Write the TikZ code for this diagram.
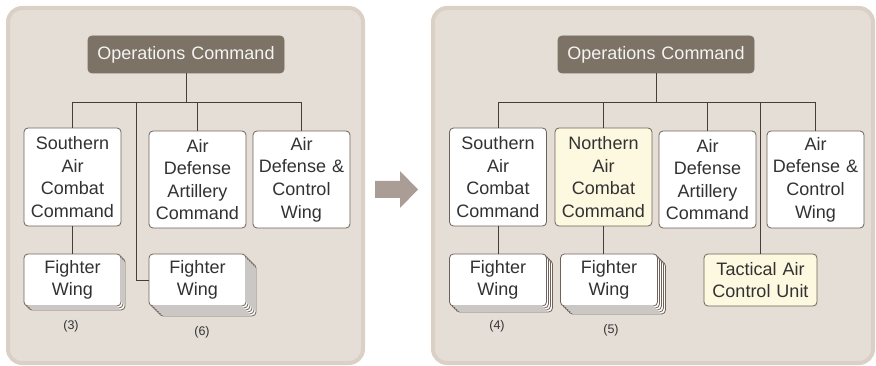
\documentclass[tikz,border=0pt]{standalone}
\usepackage{fontspec}
\setmainfont{Liberation Sans}
\usepackage{tikz}
\usetikzlibrary{shadows}

\definecolor{panelfill}{RGB}{229,222,214}
\definecolor{panelline}{RGB}{219,208,197}
\definecolor{boxline}{RGB}{110,98,89}
\definecolor{opsfill}{RGB}{124,114,102}
\definecolor{newfill}{RGB}{253,248,224}
\definecolor{wire}{RGB}{70,62,56}
\definecolor{arrowfill}{RGB}{170,157,149}
\definecolor{ink}{RGB}{50,50,50}

\begin{document}
\begin{tikzpicture}[
	x=1pt, y=-1pt,
	panel/.style = {fill=panelfill, draw=panelline, line width=4pt, rounded corners=14pt},
	unit/.style = {draw=boxline, fill=white, line width=0.8pt, rounded corners=4pt,
		inner sep=0pt, align=center, text=ink,
		font=\fontsize{18}{22.6}\selectfont},
	cmd/.style = {unit, text width=97pt, minimum height=98pt},
	wing/.style = {unit, text width=97pt, minimum height=52pt},
	ops/.style = {unit, fill=opsfill, draw=opsfill, text=white!92!opsfill,
		text width=196pt, minimum height=37pt},
	new/.style = {fill=newfill},
	sheet/.style = {general shadow={fill=white, draw=boxline,
		shadow xshift=#1, shadow yshift=-#1}},
	count/.style = {text=ink, font=\fontsize{12.5}{14}\selectfont},
	link/.style = {draw=wire, line width=0.9pt}
	]
	\useasboundingbox (0,0) rectangle (876,366);

	% panels
	\draw[panel] (8,8) rectangle (363,363);
	\draw[panel] (433,8) rectangle (873,363);

	% before
	\node[ops] (ops1) at (186,54.5) {Operations Command};
	\node[cmd] (sac1) at (72.5,177) {Southern\\Air\\Combat\\Command};
	\node[cmd, minimum height=97pt] (ada1) at (197.5,179.5) {Air\\Defense\\Artillery\\Command};
	\node[cmd, minimum height=97pt] (adc1) at (301.5,179.5) {Air\\Defense \&\\Control\\Wing};
	\node[wing, sheet=4pt, sheet=2pt] (fw1) at (72.5,280) {Fighter\\Wing};
	\node[wing, sheet=10pt, sheet=8pt, sheet=6pt, sheet=4pt, sheet=2pt] (fw2) at (197.5,280) {Fighter\\Wing};
	\node[count] (n3) at (71,326) {(3)};
	\node[count] (n6) at (202,332) {(6)};

	\draw[link] (ops1.south) -- ++(0,29) coordinate (bus1);
	\draw[link] (sac1.north) |- (bus1) -| (adc1.north);
	\draw[link] (bus1 -| ada1.north) -- (ada1.north);
	\draw[link] (sac1.south) -- (fw1.north);
	\draw[link] ([xshift=-12pt]fw2.west |- bus1) |- (fw2.west);

	% arrow
	\fill[arrowfill] (375,181) -- (400,181) -- (400,171) -- (418,189.5)
		-- (400,208) -- (400,198) -- (375,198) -- cycle;

	% after
	\node[ops] (ops2) at (656,54.5) {Operations Command};
	\node[cmd] (sac2) at (498,177) {Southern\\Air\\Combat\\Command};
	\node[cmd, new] (nac2) at (603.5,177) {Northern\\Air\\Combat\\Command};
	\node[cmd, minimum height=97pt] (ada2) at (707.5,179.5) {Air\\Defense\\Artillery\\Command};
	\node[cmd, minimum height=97pt] (adc2) at (815.5,179.5) {Air\\Defense \&\\Control\\Wing};
	\node[wing, sheet=6pt, sheet=4pt, sheet=2pt] (fw3) at (498,280) {Fighter\\Wing};
	\node[wing, sheet=8pt, sheet=6pt, sheet=4pt, sheet=2pt] (fw4) at (609,280) {Fighter\\Wing};
	\node[wing, new, text width=113pt] (tacu) at (760.5,280) {Tactical Air\\Control Unit};
	\node[count] (n4) at (497,326) {(4)};
	\node[count] (n5) at (611,330) {(5)};

	\draw[link] (ops2.south) -- ++(0,29) coordinate (bus2);
	\draw[link] (sac2.north) |- (bus2) -| (adc2.north);
	\draw[link] (bus2 -| nac2.north) -- (nac2.north);
	\draw[link] (bus2 -| ada2.north) -- (ada2.north);
	\draw[link] (bus2 -| tacu.north) -- (tacu.north);
	\draw[link] (sac2.south) -- (fw3.north);
	\draw[link] (nac2.south) -- (nac2.south |- fw4.north);
\end{tikzpicture}
\end{document}
